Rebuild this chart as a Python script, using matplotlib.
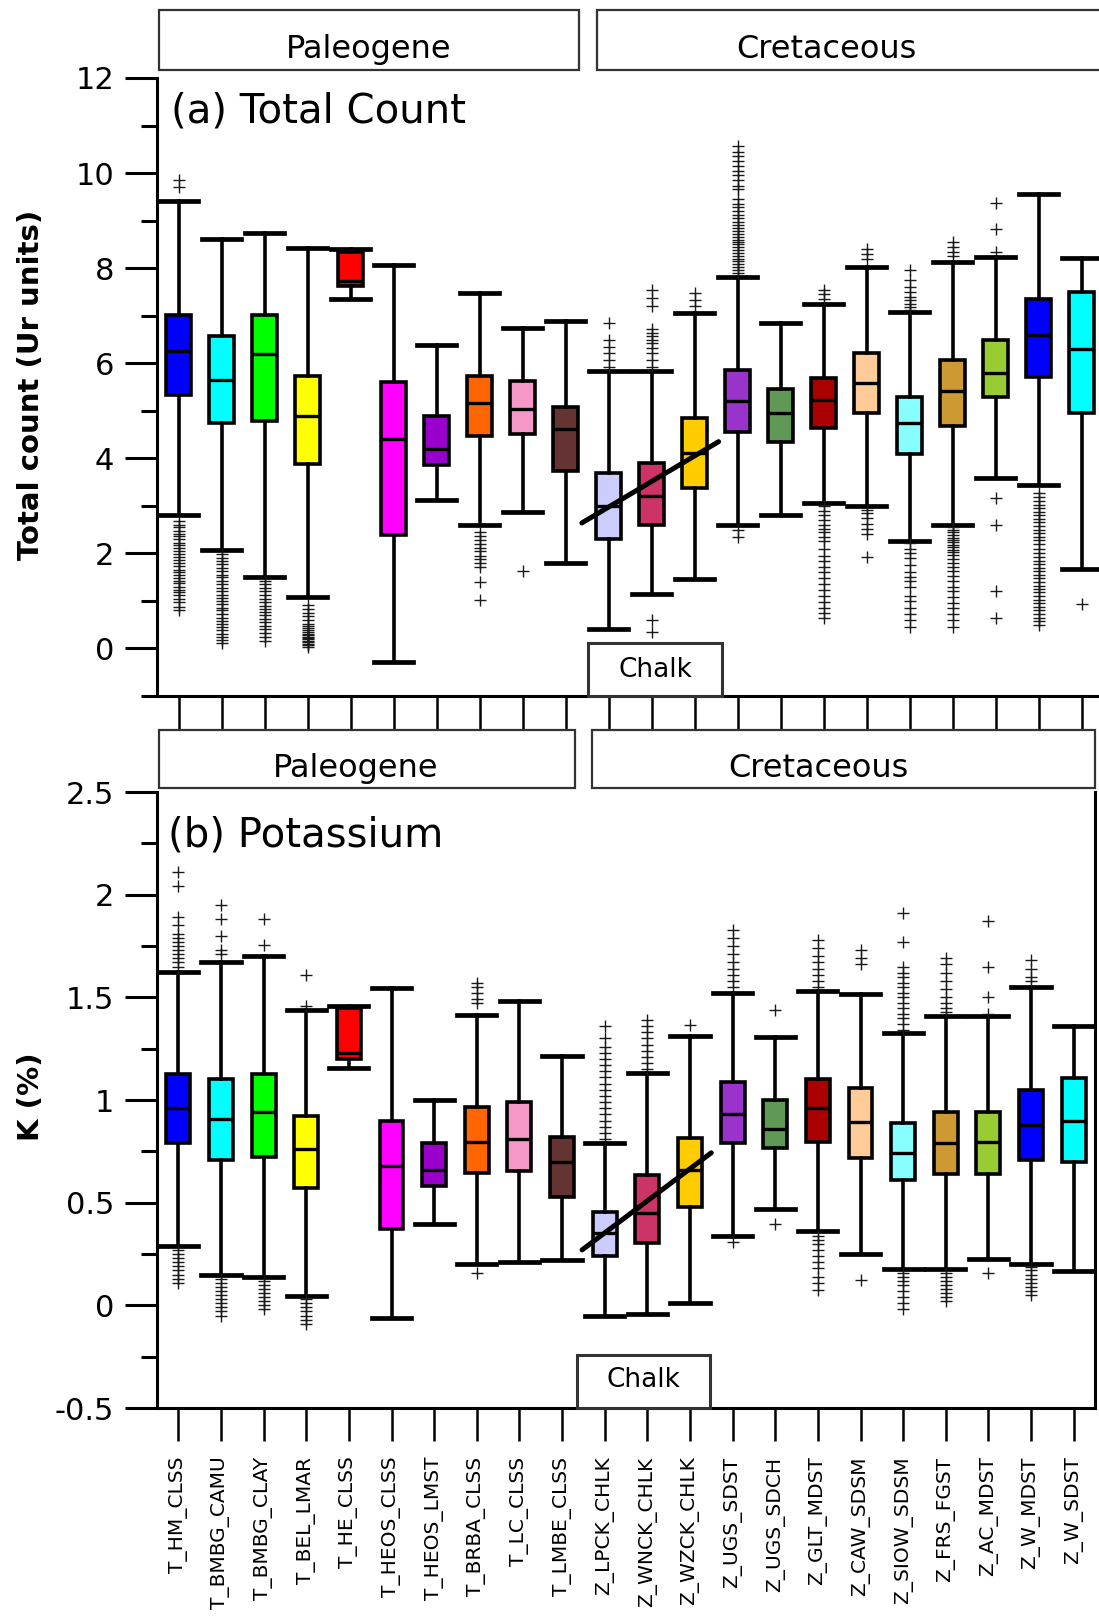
import matplotlib
matplotlib.use("Agg")
import matplotlib.pyplot as plt
from matplotlib.patches import Rectangle
from matplotlib.ticker import MultipleLocator, FuncFormatter

plt.rcParams['font.family'] = ['DejaVu Sans']
plt.rcParams['axes.unicode_minus'] = False

# ---------------- data ----------------
categories = ["T_HM_CLSS", "T_BMBG_CAMU", "T_BMBG_CLAY", "T_BEL_LMAR", "T_HE_CLSS",
              "T_HEOS_CLSS", "T_HEOS_LMST", "T_BRBA_CLSS", "T_LC_CLSS", "T_LMBE_CLSS",
              "Z_LPCK_CHLK", "Z_WNCK_CHLK", "Z_WZCK_CHLK", "Z_UGS_SDST", "Z_UGS_SDCH",
              "Z_GLT_MDST", "Z_CAW_SDSM", "Z_SIOW_SDSM", "Z_FRS_FGST", "Z_AC_MDST",
              "Z_W_MDST", "Z_W_SDST"]

box_colors = ["#0000FF", "#00FFFF", "#00FF00", "#FFFF00", "#FF0000",
              "#FF00FF", "#9900CC", "#FF6600", "#F598C8", "#663333",
              "#CCCCFF", "#CC3366", "#FFCC00", "#9933CC", "#5F9955",
              "#AA0000", "#FFCC99", "#88FFFF", "#CC9933", "#99CC33",
              "#0000FF", "#00FFFF"]

# (a) Total count
tc_whislo = [2.81, 2.07, 1.50, 1.09, 7.36, -0.28, 3.13, 2.60, 2.87, 1.79,
             0.40, 1.15, 1.46, 2.60, 2.81, 3.06, 2.99, 2.27, 2.59, 3.58, 3.44, 1.67]
tc_q1 = [5.34, 4.75, 4.78, 3.88, 7.63, 2.39, 3.86, 4.46, 4.51, 3.74,
         2.30, 2.60, 3.37, 4.56, 4.35, 4.64, 4.95, 4.09, 4.68, 5.30, 5.72, 4.95]
tc_med = [6.25, 5.65, 6.20, 4.89, 7.72, 4.40, 4.19, 5.16, 5.04, 4.61,
          2.99, 3.20, 4.12, 5.20, 4.96, 5.23, 5.58, 4.74, 5.41, 5.79, 6.60, 6.30]
tc_q3 = [7.02, 6.58, 7.02, 5.74, 8.35, 5.60, 4.90, 5.74, 5.63, 5.08,
         3.70, 3.90, 4.85, 5.86, 5.46, 5.69, 6.21, 5.29, 6.07, 6.49, 7.35, 7.49]
tc_whishi = [9.42, 8.62, 8.74, 8.43, 8.40, 8.06, 6.39, 7.48, 6.74, 6.88,
             5.83, 5.83, 7.06, 7.81, 6.85, 7.25, 8.03, 7.07, 8.13, 8.23, 9.56, 8.21]
tc_fliers = [
    [9.86, 9.70, 2.68, 2.6, 2.55, 2.47, 2.41, 2.36, 2.3, 2.22, 2.18, 2.12, 2.05, 1.98, 1.92,
     1.86, 1.8, 1.73, 1.66, 1.6, 1.55, 1.48, 1.42, 1.37, 1.3, 1.24, 1.18, 1.12, 1.05, 0.97,
     0.88, 0.81],
    [1.98, 1.9, 1.84, 1.77, 1.7, 1.62, 1.55, 1.5, 1.42, 1.35, 1.28, 1.2, 1.13, 1.06, 1.0,
     0.93, 0.86, 0.8, 0.72, 0.65, 0.58, 0.52, 0.45, 0.38, 0.3, 0.24, 0.18, 0.12],
    [1.42, 1.35, 1.28, 1.2, 1.12, 1.05, 0.98, 0.9, 0.84, 0.77, 0.7, 0.62, 0.55, 0.48, 0.4,
     0.32, 0.24, 0.15],
    [0.92, 0.83, 0.75, 0.68, 0.6, 0.52, 0.47, 0.43, 0.39, 0.35, 0.31, 0.28, 0.25, 0.22,
     0.19, 0.16, 0.13, 0.1, 0.07, 0.04],
    [], [], [],
    [2.45, 2.36, 2.28, 2.2, 2.12, 2.04, 1.95, 1.88, 1.8, 1.72, 1.39, 1.02],
    [1.62],
    [],
    [6.85, 6.49, 6.35, 6.21, 6.07, 5.93],
    [7.55, 7.37, 7.2, 6.71, 6.64, 6.57, 6.49, 6.42, 6.32, 6.21, 6.07, 5.93, 0.6, 0.35],
    [7.48, 7.34, 7.2],
    [10.57, 10.45, 10.35, 10.25, 10.15, 10.05, 9.95, 9.85, 9.72, 9.66, 9.45, 9.35, 9.28,
     9.2, 9.12, 9.05, 8.98, 8.9, 8.85, 8.78, 8.72, 8.65, 8.6, 8.55, 8.5, 8.44, 8.38, 8.32,
     8.26, 8.2, 8.14, 8.08, 8.02, 7.96, 7.9, 2.49, 2.35],
    [],
    [7.53, 7.46, 7.36, 2.99, 2.9, 2.8, 2.7, 2.6, 2.52, 2.45, 2.35, 2.25, 2.1, 1.95, 1.85,
     1.72, 1.6, 1.48, 1.35, 1.22, 1.1, 0.98, 0.85, 0.74, 0.64],
    [8.41, 8.3, 8.2, 2.92, 2.85, 2.75, 2.62, 2.52, 2.4, 1.93],
    [7.97, 7.75, 7.6, 7.5, 7.4, 7.32, 7.25, 7.18, 7.12, 2.21, 2.1, 2.0, 1.9, 1.75, 1.6,
     1.5, 1.42, 1.3, 1.1, 1.0, 0.85, 0.72, 0.6, 0.46],
    [8.55, 8.45, 8.35, 8.25, 2.56, 2.5, 2.44, 2.38, 2.33, 2.28, 2.23, 2.18, 2.13, 2.08,
     2.02, 1.96, 1.88, 1.8, 1.72, 1.62, 1.52, 1.42, 1.3, 1.2, 1.08, 0.95, 0.85, 0.72, 0.6,
     0.46],
    [9.37, 8.83, 8.35, 3.16, 2.6, 1.2, 0.64],
    [3.27, 3.18, 3.1, 3.02, 2.95, 2.88, 2.8, 2.72, 2.65, 2.58, 2.5, 2.42, 2.35, 2.28, 2.2,
     2.1, 2.0, 1.92, 1.85, 1.78, 1.7, 1.62, 1.55, 1.48, 1.4, 1.32, 1.25, 1.18, 1.1, 1.02,
     0.95, 0.88, 0.8, 0.72, 0.65, 0.58, 0.5],
    [0.94],
]

# (b) Potassium
k_whislo = [0.29, 0.15, 0.14, 0.045, 1.157, -0.063, 0.396, 0.20, 0.21, 0.22,
            -0.052, -0.04, 0.01, 0.338, 0.47, 0.36, 0.25, 0.175, 0.175, 0.225, 0.20, 0.168]
k_q1 = [0.79, 0.71, 0.72, 0.57, 1.20, 0.37, 0.58, 0.646, 0.656, 0.526,
        0.24, 0.305, 0.477, 0.79, 0.765, 0.797, 0.716, 0.61, 0.64, 0.64, 0.708, 0.70]
k_med = [0.96, 0.906, 0.94, 0.76, 1.23, 0.68, 0.66, 0.797, 0.81, 0.70,
         0.35, 0.448, 0.66, 0.93, 0.857, 0.96, 0.894, 0.74, 0.79, 0.797, 0.878, 0.90]
k_q3 = [1.127, 1.10, 1.127, 0.92, 1.45, 0.90, 0.79, 0.967, 0.99, 0.818,
        0.456, 0.635, 0.813, 1.09, 1.00, 1.10, 1.057, 0.89, 0.943, 0.943, 1.05, 1.106]
k_whishi = [1.625, 1.67, 1.70, 1.44, 1.458, 1.547, 1.00, 1.414, 1.48, 1.214,
            0.79, 1.13, 1.31, 1.52, 1.308, 1.53, 1.516, 1.328, 1.41, 1.41, 1.55, 1.36]
k_fliers = [
    [2.11, 2.04, 1.89, 1.85, 1.81, 1.79, 1.77, 1.75, 1.73, 1.71, 1.69, 1.67, 1.65,
     0.27, 0.25, 0.23, 0.21, 0.19, 0.17, 0.15, 0.13, 0.11],
    [1.95, 1.88, 1.8, 1.73, 1.71, 0.13, 0.11, 0.09, 0.07, 0.05, 0.03, 0.01, -0.01, -0.03,
     -0.05],
    [1.88, 1.755, 0.12, 0.1, 0.08, 0.06, 0.04, 0.02, 0.0, -0.02],
    [1.61, 1.46, 0.03, 0.01, -0.01, -0.03, -0.05, -0.07, -0.09],
    [], [], [],
    [1.57, 1.55, 1.52, 1.49, 1.47, 0.156],
    [], [],
    [1.36, 1.3, 1.26, 1.23, 1.2, 1.17, 1.14, 1.11, 1.08, 1.05, 1.02, 0.99, 0.96, 0.93, 0.9,
     0.87, 0.84, 0.81],
    [1.39, 1.36, 1.33, 1.3, 1.27, 1.24, 1.21, 1.18, 1.15],
    [1.365],
    [1.83, 1.79, 1.75, 1.71, 1.67, 1.64, 1.61, 1.58, 1.55, 0.31],
    [1.44, 0.395],
    [1.78, 1.74, 1.7, 1.67, 1.64, 1.61, 1.58, 1.55, 0.34, 0.32, 0.3, 0.27, 0.24, 0.21,
     0.18, 0.14, 0.11, 0.075],
    [1.73, 1.69, 1.66, 0.123],
    [1.91, 1.77, 1.65, 1.62, 1.6, 1.57, 1.55, 1.52, 1.5, 1.47, 1.45, 1.42, 1.4, 1.37, 1.34,
     0.157, 0.14, 0.12, 0.1, 0.07, 0.04, 0.01, -0.02],
    [1.69, 1.66, 1.62, 1.58, 1.54, 1.5, 1.47, 1.45, 1.43, 0.157, 0.14, 0.12, 0.1, 0.08,
     0.06, 0.04, 0.02],
    [1.87, 1.65, 1.5, 1.42, 0.156],
    [1.68, 1.64, 1.6, 1.58, 0.188, 0.17, 0.15, 0.13, 0.11, 0.09, 0.07, 0.05],
    [],
]

# chalk trend lines (category position, value)
trend_a_x = [10.38, 13.56]
trend_a_y = [2.64, 4.35]
trend_b_x = [10.47, 13.50]
trend_b_y = [0.27, 0.743]

# ---------------- figure ----------------
W, H = 1099, 1620
fig = plt.figure(figsize=(W / 100, H / 100), dpi=100)


def fx(x):
    return x / W


def fy(y):
    return 1 - y / H


ax1 = fig.add_axes([fx(157), fy(696), (1103 - 157) / W, (696 - 78) / H])
ax2 = fig.add_axes([fx(157), fy(1408), (1095 - 157) / W, (1408 - 792) / H])

positions = list(range(1, len(categories) + 1))


def make_stats(lo, q1, med, q3, hi, fl):
    return [dict(whislo=lo[i], q1=q1[i], med=med[i], q3=q3[i], whishi=hi[i],
                 fliers=fl[i], label=categories[i]) for i in range(len(categories))]


def draw(ax, stats):
    bp = ax.bxp(stats, positions=positions, widths=0.56, capwidths=0.92,
                patch_artist=True, showfliers=True,
                boxprops=dict(edgecolor='black', linewidth=2.6),
                medianprops=dict(color='black', linewidth=2.4),
                whiskerprops=dict(color='black', linewidth=2.6),
                capprops=dict(color='black', linewidth=3.4),
                flierprops=dict(marker='+', markersize=9, markeredgewidth=1.0,
                                markeredgecolor='#1a1a1a', linestyle='none'))
    for patch, c in zip(bp['boxes'], box_colors):
        patch.set_facecolor(c)
    return bp


draw(ax1, make_stats(tc_whislo, tc_q1, tc_med, tc_q3, tc_whishi, tc_fliers))
draw(ax2, make_stats(k_whislo, k_q1, k_med, k_q3, k_whishi, k_fliers))

ax1.plot(trend_a_x, trend_a_y, color='black', linewidth=3.6, solid_capstyle='round', zorder=5)
ax2.plot(trend_b_x, trend_b_y, color='black', linewidth=3.6, solid_capstyle='round', zorder=5)

for ax in (ax1, ax2):
    ax.set_xlim(0.5, 22.5)
    ax.set_xticks(positions)
    ax.spines['top'].set_visible(False)
    for s in ('left', 'bottom', 'right'):
        ax.spines[s].set_linewidth(2.2)
    ax.tick_params(axis='y', which='major', direction='out', length=23, width=2.2,
                   labelsize=22, pad=8)
    ax.tick_params(axis='y', which='minor', direction='out', length=11.5, width=2.2)
    ax.tick_params(axis='x', which='major', direction='out', length=24, width=1.8,
                   labelsize=14.5, pad=11)
    ax.tick_params(axis='y', right=False)

ax1.set_ylim(-1, 12)
ax1.yaxis.set_major_locator(MultipleLocator(2))
ax1.yaxis.set_minor_locator(MultipleLocator(1))
ax1.set_xticklabels([])

ax2.set_ylim(-0.5, 2.5)
ax2.yaxis.set_major_locator(MultipleLocator(0.5))
ax2.yaxis.set_minor_locator(MultipleLocator(0.25))
ax2.yaxis.set_major_formatter(FuncFormatter(lambda v, p: "%g" % round(v, 3)))
ax2.set_xticklabels(categories, rotation=90, va='top', ha='center')

# panel titles
ax1.text(0.015, 0.978, "(a) Total Count", transform=ax1.transAxes, fontsize=29,
         ha='left', va='top')
ax2.text(0.012, 0.962, "(b) Potassium", transform=ax2.transAxes, fontsize=29,
         ha='left', va='top')

# y labels
fig.text(fx(31), fy(385), "Total count (Ur units)", rotation=90, fontsize=21,
         fontweight='bold', ha='center', va='center')
fig.text(fx(31), fy(1097), "K (%)", rotation=90, fontsize=21,
         fontweight='bold', ha='center', va='center')


def label_box(x0, x1, y0, y1, text, tx, ty, size, lw=1.6):
    r = Rectangle((fx(x0), fy(y1)), (x1 - x0) / W, (y1 - y0) / H, transform=fig.transFigure,
                  facecolor='white', edgecolor='#333333', linewidth=lw, zorder=6)
    fig.add_artist(r)
    fig.text(fx(tx), fy(ty), text, fontsize=size, ha='center', va='baseline', zorder=7)


# period boxes
label_box(159, 579, 10, 70, "Paleogene", 369, 58, 23)
label_box(597, 1130, 10, 70, "Cretaceous", 826, 58, 23)
label_box(159, 575, 730, 788, "Paleogene", 356, 777, 23)
label_box(592, 1095, 730, 788, "Cretaceous", 818, 777, 23)

# chalk boxes
label_box(588, 722, 643, 696, "Chalk", 655, 677, 19, lw=2.2)
label_box(577, 710, 1355, 1408, "Chalk", 643, 1387, 19, lw=2.2)

fig.savefig("out.png", dpi=100)
